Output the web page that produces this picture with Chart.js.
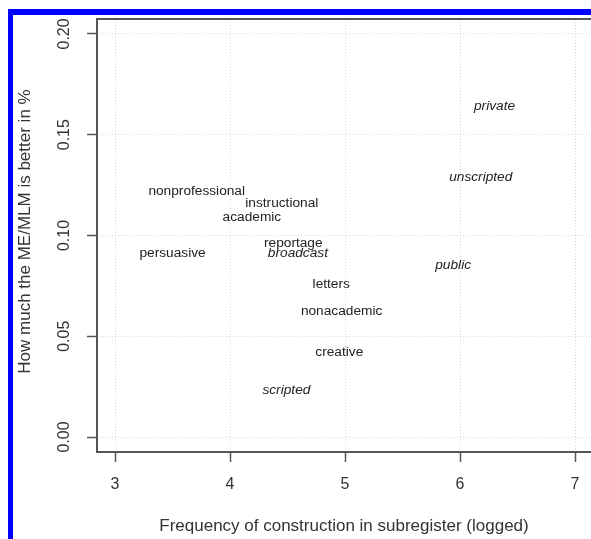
<!DOCTYPE html>
<html>
<head>
<meta charset="utf-8">
<script src="https://cdn.jsdelivr.net/npm/chart.js@4"></script>
<style>
  html, body { margin: 0; padding: 0; background: #fff; overflow: hidden; }
  #wrap { width: 620px; height: 539px; }
</style>
</head>
<body>
<div id="wrap"><canvas id="plot" width="620" height="539"></canvas></div>
<script>
// subregisters, frequency (logged) and improvement of ME/MLM
var registers = ['private', 'unscripted', 'public', 'nonprofessional', 'instructional', 'academic',
                 'persuasive', 'reportage', 'broadcast', 'letters', 'nonacademic', 'creative', 'scripted'];
var frequency = [6.30, 6.18, 5.94, 3.71, 4.45, 4.19, 3.50, 4.55, 4.59, 4.88, 4.97, 4.95, 4.49];
var improvement = [0.164, 0.129, 0.085, 0.122, 0.116, 0.109, 0.091, 0.096, 0.091, 0.076, 0.0625, 0.042, 0.023];
var italicLabels = [true, true, true, false, false, false, false, false, true, false, false, false, true];
var xTicks = [3, 4, 5, 6, 7];
var yTicks = ['0.00', '0.05', '0.10', '0.15', '0.20'];

var FONT = "'Liberation Sans', Arial, sans-serif";

var points = frequency.map(function (f, i) {
    return { x: f, y: improvement[i] };
});

var decorations = {
    id: 'decorations',
    afterDatasetsDraw: function (chart) {
        var ctx = chart.ctx;
        var meta = chart.getDatasetMeta(0);
        ctx.save();
        ctx.fillStyle = '#222';
        ctx.textAlign = 'center';
        ctx.textBaseline = 'middle';
        meta.data.forEach(function (pt, i) {
            ctx.font = (italicLabels[i] ? 'italic ' : '') + '13.7px ' + FONT;
            ctx.fillText(registers[i], pt.x, pt.y);
        });
        ctx.restore();
    },
    afterDraw: function (chart) {
        var ctx = chart.ctx;
        var area = chart.chartArea;
        var xs = chart.scales.x, ys = chart.scales.y;
        ctx.save();

        // plot box
        ctx.strokeStyle = '#555';
        ctx.lineWidth = 2;
        ctx.strokeRect(area.left, area.top, area.right - area.left, area.bottom - area.top);

        // tick labels
        ctx.fillStyle = '#333';
        ctx.font = '16px ' + FONT;
        ctx.textAlign = 'center';
        ctx.textBaseline = 'middle';
        xTicks.forEach(function (v) {
            ctx.fillText(String(v), xs.getPixelForValue(v), 485);
        });
        yTicks.forEach(function (t) {
            ctx.save();
            ctx.translate(65, ys.getPixelForValue(parseFloat(t)));
            ctx.rotate(-Math.PI / 2);
            ctx.fillText(t, 0, 0);
            ctx.restore();
        });

        // axis titles
        ctx.font = '17px ' + FONT;
        ctx.fillText('Frequency of construction in subregister (logged)', 344, 526);
        ctx.save();
        ctx.translate(25, (area.top + area.bottom) / 2 - 4);
        ctx.rotate(-Math.PI / 2);
        ctx.fillText('How much the ME/MLM is better in %', 0, 0);
        ctx.restore();

        // blue frame
        ctx.fillStyle = '#0000ff';
        ctx.fillRect(8, 9, 600, 6);
        ctx.fillRect(8, 9, 5, 530);
        ctx.restore();
    }
};

var gridOpts = {
    color: '#d6d6d6',
    lineWidth: 1,
    borderDash: [1, 2],
    tickLength: 10,
    tickColor: '#555',
    tickWidth: 1.5,
    tickBorderDash: []
};

new Chart(document.getElementById('plot').getContext('2d'), {
    type: 'scatter',
    data: {
        datasets: [{
            data: points,
            pointRadius: 0,
            pointHoverRadius: 0,
            showLine: false
        }]
    },
    options: {
        responsive: false,
        animation: false,
        events: [],
        layout: { padding: { top: 19, left: 0, right: 0, bottom: 0 } },
        plugins: {
            legend: { display: false },
            tooltip: { enabled: false }
        },
        scales: {
            x: {
                type: 'linear',
                min: 2.843,
                max: 7.391,
                ticks: { stepSize: 1, includeBounds: false, display: false },
                grid: gridOpts,
                border: { display: false, dash: [1, 2] },
                afterFit: function (s) { s.height = 87; }
            },
            y: {
                type: 'linear',
                min: -0.00744,
                max: 0.2074,
                ticks: { stepSize: 0.05, includeBounds: false, display: false },
                grid: gridOpts,
                border: { display: false, dash: [1, 2] },
                afterFit: function (s) { s.width = 97; }
            }
        }
    },
    plugins: [decorations]
});
</script>
</body>
</html>
